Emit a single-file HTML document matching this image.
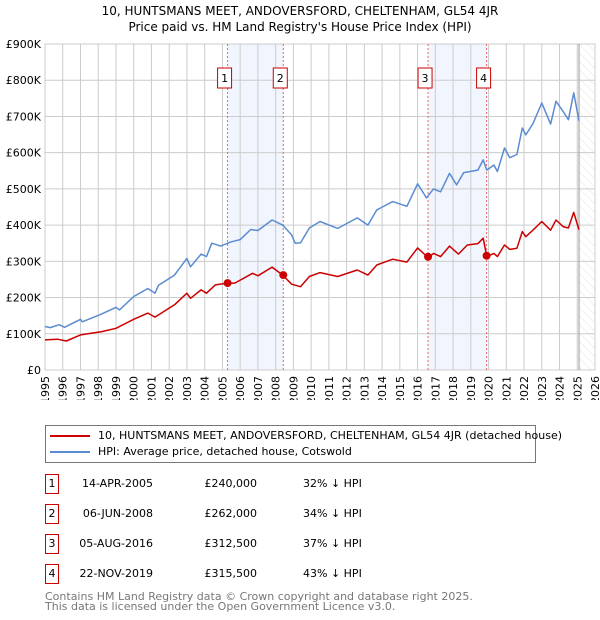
<!DOCTYPE html>
<html><head><meta charset="utf-8"><style>
body{margin:0;width:600px;height:620px;background:#fff;font-family:"DejaVu Sans","Liberation Sans",sans-serif;overflow:hidden;position:relative}
.t{position:absolute;font-size:11px;color:#000;white-space:nowrap}
.box{position:absolute;border:1px solid #c00;width:12px;height:18px;text-align:center;font-size:11px;line-height:18px}
</style></head><body>
<div class="t" style="left:0;width:600px;text-align:center;top:3px;line-height:16px;font-size:12px">10, HUNTSMANS MEET, ANDOVERSFORD, CHELTENHAM, GL54 4JR<br>Price paid vs. HM Land Registry's House Price Index (HPI)</div>
<svg id="chart" width="600" height="400" style="position:absolute;left:0;top:0" xmlns="http://www.w3.org/2000/svg">
<defs><pattern id="hatch" patternUnits="userSpaceOnUse" width="6" height="6" patternTransform="rotate(-45)"><line x1="0" y1="0" x2="0" y2="6" stroke="#d8d8d8" stroke-width="0.7"/></pattern></defs>
</svg>
<div style="position:absolute;left:45px;top:425px;width:489px;height:36px;border:1px solid #777"></div>
<div style="position:absolute;left:50px;top:435px;width:40px;height:2px;background:#c00"></div>
<div class="t" style="left:98px;top:429px">10, HUNTSMANS MEET, ANDOVERSFORD, CHELTENHAM, GL54 4JR (detached house)</div>
<div style="position:absolute;left:50px;top:451px;width:40px;height:2px;background:#5b8bd0"></div>
<div class="t" style="left:98px;top:445px">HPI: Average price, detached house, Cotswold</div>
<div id="tbl"></div>
<div class="t" style="left:45px;top:592px;color:#777;line-height:10px">Contains HM Land Registry data © Crown copyright and database right 2025.<br>This data is licensed under the Open Government Licence v3.0.</div>
<script>
const hpiYears=[1995.0,1995.3,1995.8,1996.1,1997.0,1997.1,1998.2,1999.0,1999.2,2000.0,2000.8,2001.2,2001.4,2002.3,2003.0,2003.2,2003.8,2004.1,2004.4,2004.9,2005.5,2006.0,2006.6,2007.0,2007.8,2008.4,2008.9,2009.1,2009.4,2009.9,2010.5,2011.5,2012.6,2013.2,2013.7,2014.6,2015.4,2016.0,2016.5,2016.9,2017.3,2017.8,2018.2,2018.6,2019.4,2019.7,2019.9,2020.3,2020.5,2020.9,2021.2,2021.6,2021.9,2022.1,2022.5,2023.0,2023.5,2023.8,2024.2,2024.5,2024.8,2025.1];
const hpiValues=[120,117,125,118,140,133,155,173,166,203,225,212,234,262,308,285,320,313,350,342,354,360,388,385,414,400,373,350,351,392,410,391,420,400,442,465,452,514,475,500,492,543,511,545,552,580,552,566,548,613,586,595,668,649,680,737,679,742,714,691,765,688];
const priceYears=[1995.0,1995.7,1996.2,1997.0,1998.2,1999.0,2000.0,2000.8,2001.2,2002.3,2003.0,2003.2,2003.8,2004.1,2004.6,2005.3,2005.7,2006.7,2007.0,2007.8,2008.4,2008.9,2009.4,2009.9,2010.5,2011.5,2012.6,2013.2,2013.7,2014.6,2015.4,2016.0,2016.6,2016.9,2017.3,2017.8,2018.3,2018.8,2019.4,2019.7,2019.9,2020.3,2020.5,2020.9,2021.2,2021.6,2021.9,2022.1,2022.5,2023.0,2023.5,2023.8,2024.2,2024.5,2024.8,2025.1];
const priceValues=[83,85,80,97,106,115,140,157,146,180,212,198,221,212,235,240,240,267,260,284,262,237,230,258,269,258,276,262,290,306,298,337,310,322,313,342,320,345,349,364,313,322,313,345,333,336,382,368,386,410,386,414,396,392,435,387];
const saleYears=[2005.29,2008.43,2016.59,2019.89];
const saleValues=[240,262,312.5,315.5];
const saleLabels=["1","2","3","4"];
const saleDates=["14-APR-2005","06-JUN-2008","05-AUG-2016","22-NOV-2019"];
const salePrices=["£240,000","£262,000","£312,500","£315,500"];
const saleDiffs=["32% ↓ HPI","34% ↓ HPI","37% ↓ HPI","43% ↓ HPI"];
const yTicks=[0,100,200,300,400,500,600,700,800,900];
const yTickLabels=["£0","£100K","£200K","£300K","£400K","£500K","£600K","£700K","£800K","£900K"];
const xTicks=[];for(let y=1995;y<=2026;y++)xTicks.push(y);
const X0=45,X1=595,Y0=370,Y1=44;
const xs=v=>X0+(v-1995)/31*(X1-X0);
const ys=v=>Y0-v/900*(Y0-Y1);
const svg=document.getElementById('chart');const NS='http://www.w3.org/2000/svg';
function mk(t,a,p){const e=document.createElementNS(NS,t);for(const k in a)e.setAttribute(k,a[k]);(p||svg).appendChild(e);return e;}
for(let i=0;i<saleYears.length;i+=2){const r=mk('rect',{x:xs(saleYears[i]),y:Y1,width:xs(saleYears[i+1])-xs(saleYears[i]),height:Y0-Y1,fill:'#eef3fc',opacity:0.8});

}
const hr=mk('rect',{x:xs(2025.1),y:Y1,width:X1-xs(2025.1),height:Y0-Y1,fill:'url(#hatch)'});


xTicks.forEach(t=>{mk('line',{x1:xs(t),x2:xs(t),y1:Y1,y2:Y0,stroke:'#ccc','stroke-width':1});
const tx=mk('text',{x:0,y:0,transform:`translate(${xs(t)+4},${Y0+6}) rotate(-90)`,'text-anchor':'end','font-size':11,fill:'#000'});tx.textContent=t;

});
yTicks.forEach((t,i)=>{mk('line',{x1:X0,x2:X1,y1:ys(t),y2:ys(t),stroke:'#ccc','stroke-width':1});
const tx=mk('text',{x:X0-4,y:ys(t)+4,'text-anchor':'end','font-size':11,fill:'#000'});tx.textContent=yTickLabels[i];

});
mk('rect',{x:X0,y:Y1,width:X1-X0,height:Y0-Y1,fill:'none',stroke:'#ccc'});
mk('line',{x1:xs(2025.1),x2:xs(2025.1),y1:Y1,y2:Y0,stroke:'#999','stroke-width':1});
saleYears.forEach((s,i)=>{mk('line',{x1:xs(s),x2:xs(s),y1:Y1,y2:Y0,stroke:'#e66','stroke-width':1,'stroke-dasharray':'2,2'});
const g=mk('g',{});

mk('rect',{x:xs(s)-10,y:68,width:14,height:20,fill:'#fff',stroke:'#c00'},g);
const t=mk('text',{x:xs(s)-3,y:82,'text-anchor':'middle','font-size':11},g);t.textContent=saleLabels[i];});
function line(xa,va,col,name){const d=xa.map((x,i)=>(i?'L':'M')+xs(x).toFixed(1)+','+ys(va[i]).toFixed(1)).join('');
const p=mk('path',{d:d,fill:'none',stroke:col,'stroke-width':1.5,'stroke-linejoin':'round'});

}
line(hpiYears,hpiValues,'#5b8bd0','hpi-line');
line(priceYears,priceValues,'#c00','price-line');
saleYears.forEach((s,i)=>{const c=mk('circle',{cx:xs(s),cy:ys(saleValues[i]),r:4,fill:'#c00'});

});
const tb=document.getElementById('tbl');
saleLabels.forEach((l,i)=>{const top=474+i*30;
const b=document.createElement('div');b.className='box';b.style.left='45px';b.style.top=top+'px';b.textContent=l;

tb.appendChild(b);
[[saleDates[i],'sale-date',153,'r'],[salePrices[i],'sale-price',257,'r'],[saleDiffs[i],'sale-hpi-diff',303,'l']].forEach(c=>{
const d=document.createElement('div');d.className='t';d.textContent=c[0];d.style.top=(top+3)+'px';
if(c[3]=='r'){d.style.right=(600-c[2])+'px';}else d.style.left=c[2]+'px';

tb.appendChild(d);});});
</script>
</body></html>
